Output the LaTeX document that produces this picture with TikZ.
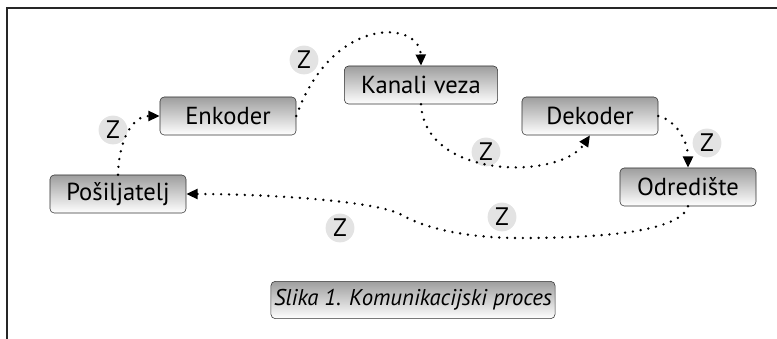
\documentclass[tikz,border=0pt]{standalone}
\usepackage{fontspec}
\setmainfont{PT Sans}
\usetikzlibrary{arrows.meta}
\tikzset{
  box/.style={draw=black!80,rounded corners=3pt,top color=black!38,bottom color=white,
    minimum width=3.4cm,minimum height=0.95cm,inner sep=0pt,font=\fontsize{17.5}{21}\selectfont},
  zcirc/.style={circle,fill=black!11,minimum size=0.72cm,inner sep=0pt,font=\fontsize{18}{21}\selectfont},
  flow/.style={line width=1.9pt,line cap=round,dash pattern=on 0pt off 5.6pt,
    -{Triangle[length=8pt,width=7pt]}}
}
\begin{document}
\begin{tikzpicture}[x=0.025cm,y=-0.025cm]
\useasboundingbox (0,0) rectangle (777,339);
\draw[line width=1.4pt,black!85] (7,339)--(7,8)--(777,8);
\foreach \n/\x/\y/\t in {enc/228/116/Enkoder,dek/590/116/Dekoder,odr/688/187/Odredište,pos/118/194/Pošiljatelj}
 {\node[box] (\n) at (\x,\y) {\t};}
\node[box,minimum width=3.83cm] (kan) at (421,85) {Kanali veza};
\node[box,minimum width=7.1cm,minimum height=0.93cm,font=\fontsize{16.2}{19}\selectfont\itshape] (cap) at (413,300) {Slika 1. Komunikacijski proces};
\foreach \i/\x/\y in {1/113/130,2/304/60,3/486/152,4/707/143,5/502/217,6/340/228}
 {\node[zcirc] (z\i) at (\x,\y) {Z};}
\draw[flow] (pos.north) .. controls (119,140) and (132,116) .. (enc.west);
\draw[flow] (enc.east) .. controls (332,15) and (420,20) .. (kan.north);
\draw[flow] (kan.south) .. controls (425,180) and (560,180) .. (dek.south);
\draw[flow] (dek.east) .. controls (675,120) and (688,140) .. (odr.north);
\draw[flow] (odr.south) .. controls (680,232) and (600,238) .. (520,238)
  .. controls (460,238) and (420,226) .. (400,214)
  .. controls (370,200) and (260,194) .. (pos.east);
\end{tikzpicture}
\end{document}
